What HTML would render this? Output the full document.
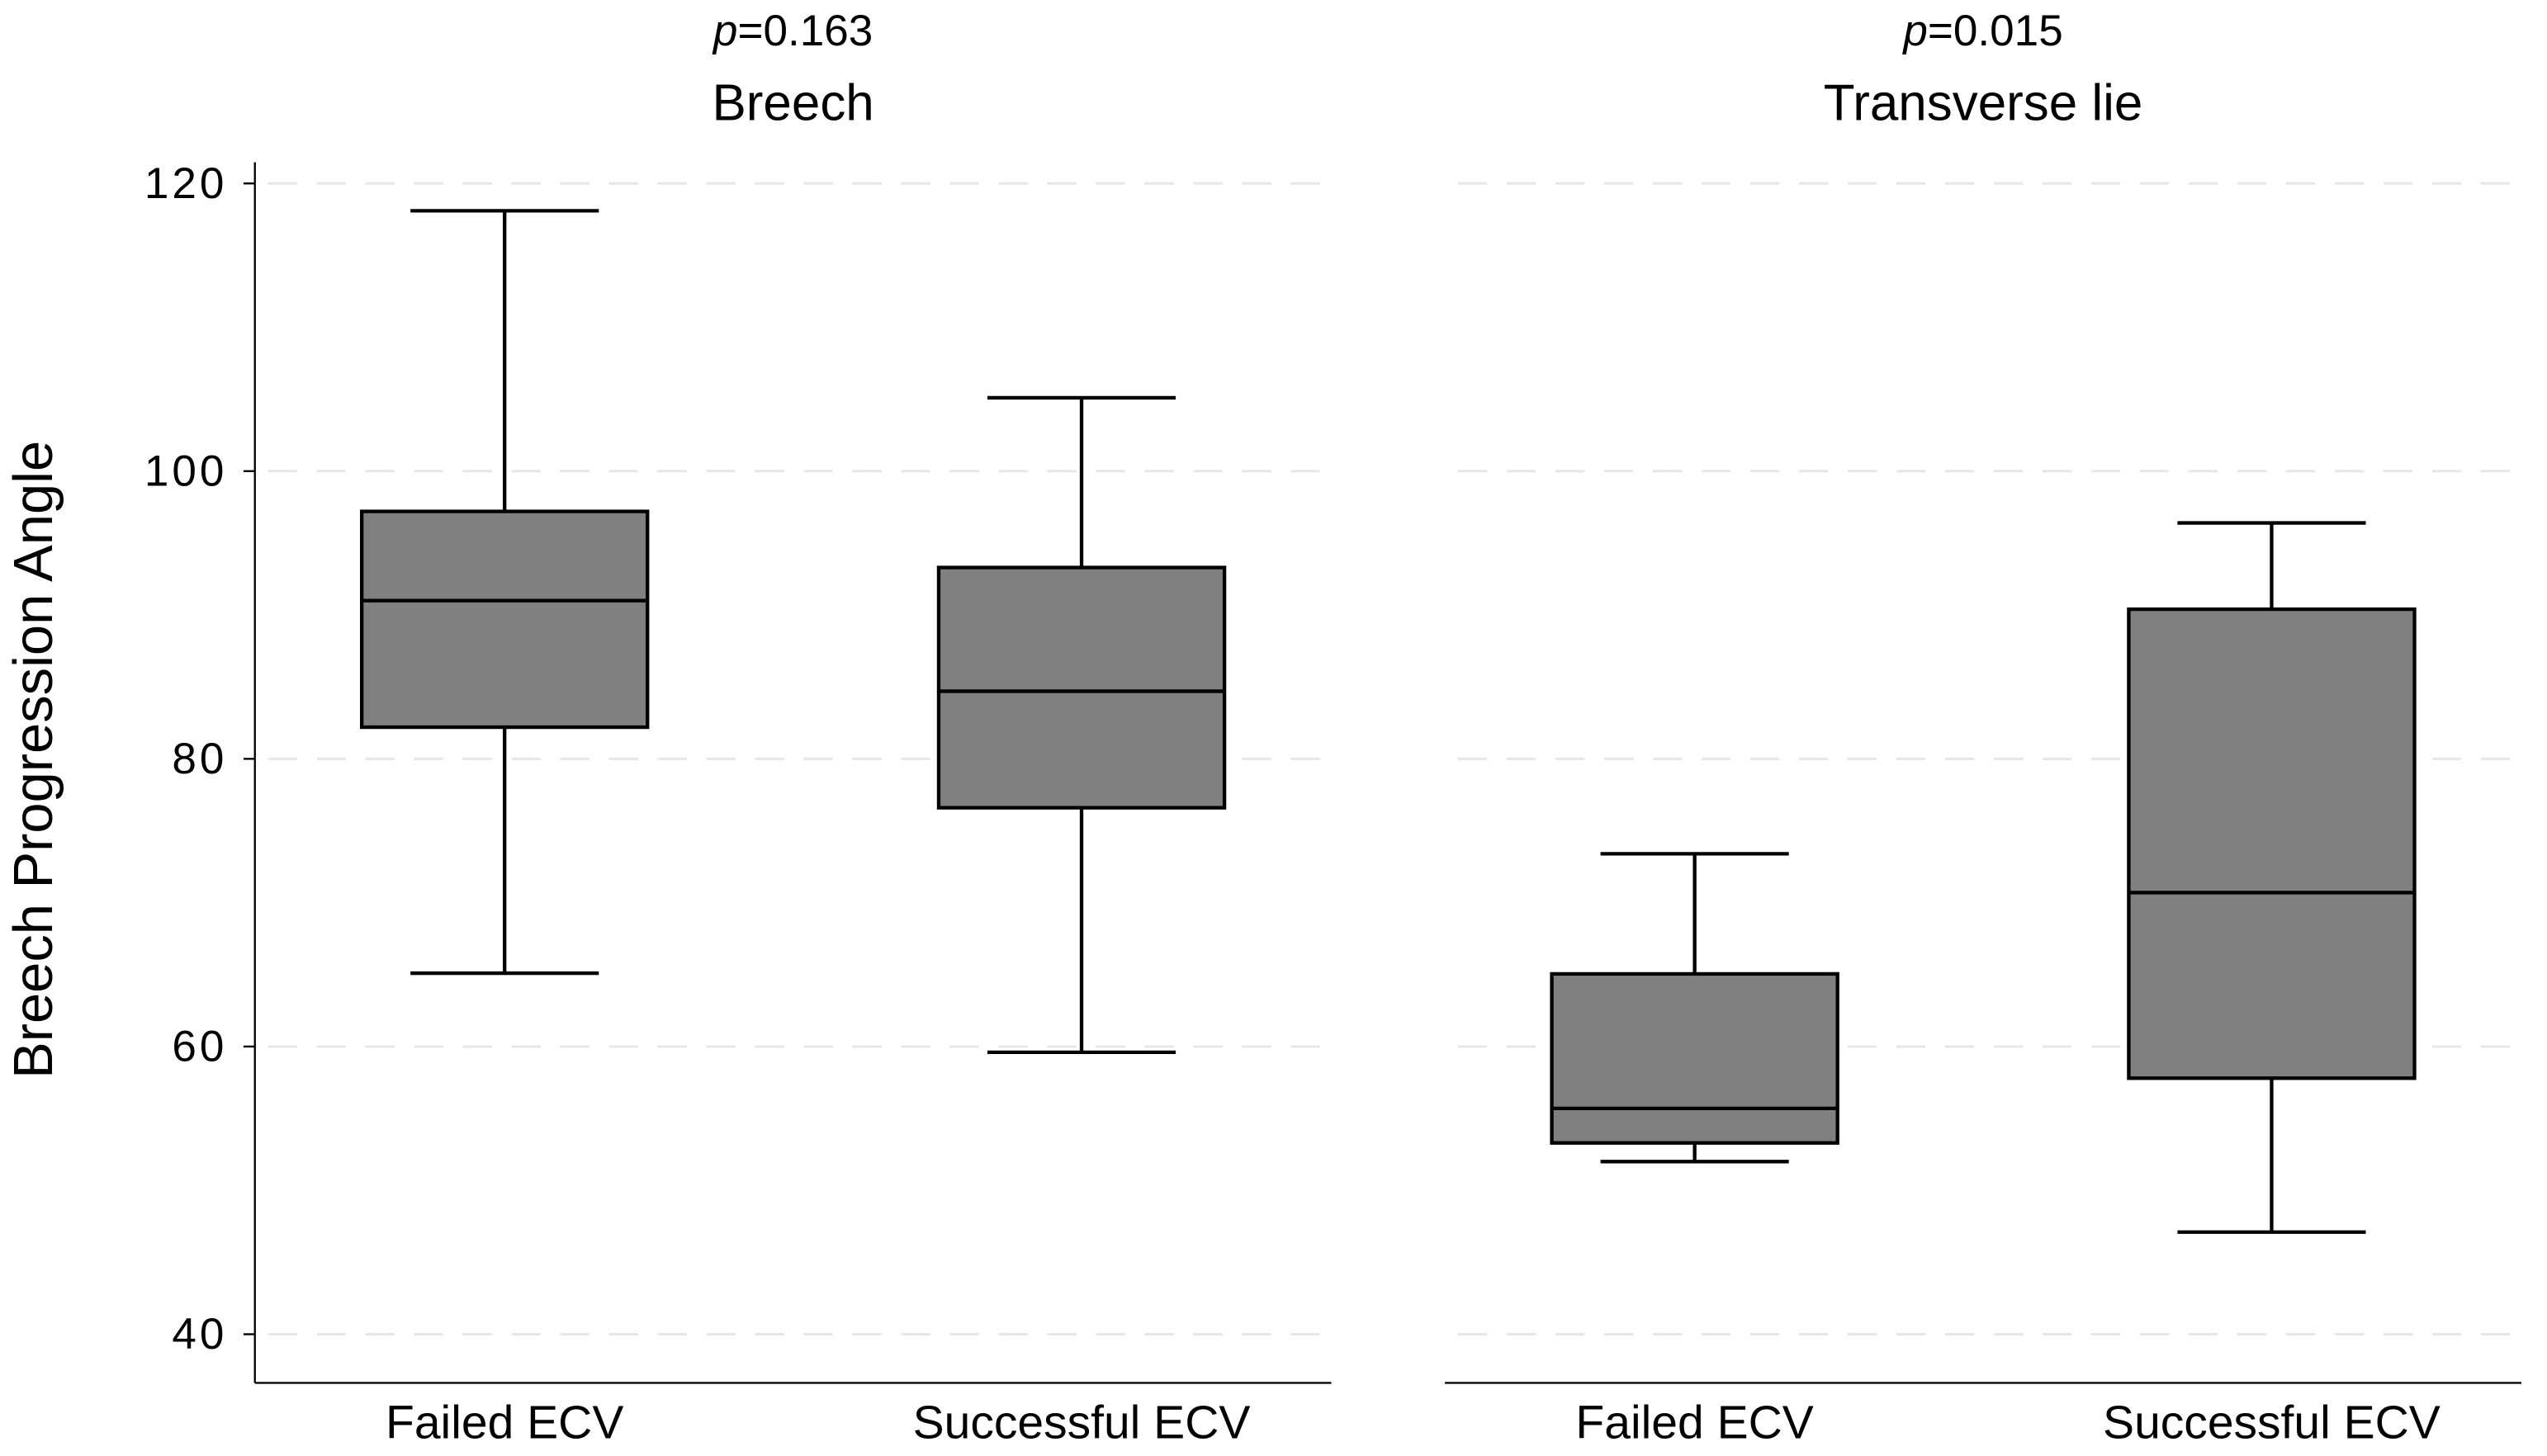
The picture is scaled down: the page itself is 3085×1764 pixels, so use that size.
<!DOCTYPE html>
<html><head><meta charset="utf-8"><style>
html,body{margin:0;padding:0;background:#fff;}
svg{display:block;font-family:"Liberation Sans",Arial,sans-serif;}
</style></head><body>
<svg id="chart" width="3085" height="1764" viewBox="0 0 1568.8 897" xmlns="http://www.w3.org/2000/svg">
<g id="g"></g>
</svg>
<script>
const panels = ["Breech", "Transverse lie"];
const pvalues = ["0.163", "0.015"];
const categories = ["Failed ECV", "Successful ECV"];
const yTicks = [40, 60, 80, 100, 120];
// [low whisker, Q1, median, Q3, high whisker] per panel per category
const breechFailed = [65.1, 82.2, 91.0, 97.2, 118.1];
const breechSuccess = [59.6, 76.6, 84.7, 93.3, 105.1];
const transFailed = [52.0, 53.3, 55.7, 65.05, 73.4];
const transSuccess = [47.1, 57.8, 70.7, 90.4, 96.4];
const series = [[breechFailed, breechSuccess], [transFailed, transSuccess]];

const NS = "http://www.w3.org/2000/svg";
const g = document.getElementById("g");
function y(v){ return 822 - (v - 40) * (709 / 80); }
const panelX = [[157, 820], [890, 1553]];
function xCat(p, i){ const [a,b] = panelX[p]; const w = b - a; return a + w * (0.232 + 0.536 * i); }
function el(tag, attrs, parent){ const e = document.createElementNS(NS, tag); for (const k in attrs) e.setAttribute(k, attrs[k]); (parent||g).appendChild(e); return e; }

// y axis
const ya = el("line", {x1:157, y1:100, x2:157, y2:852, stroke:"#000", "stroke-width":1.2});


const yt = el("text", {x:0, y:0, "font-size":34, "text-anchor":"middle", transform:"translate(32 468) rotate(-90)"});
yt.textContent = "Breech Progression Angle";


yTicks.forEach(t => {
  const tk = el("line", {x1:150, x2:157, y1:y(t), y2:y(t), stroke:"#000", "stroke-width":1.2});
  
  
  const tl = el("text", {x:140, y:y(t)+9, "font-size":27, "letter-spacing":2, "text-anchor":"end"});
  tl.textContent = t;
  
  
});

panels.forEach((name, p) => {
  const [a,b] = panelX[p];
  const cx = (a + b) / 2;
  yTicks.forEach(t => {
    const gl = el("line", {x1:a+8, x2:b, y1:y(t), y2:y(t), stroke:"#e6e6e6", "stroke-width":1.5, "stroke-dasharray":"18 12"});
    
    
  });
  const xa = el("line", {x1:a, x2:b, y1:852, y2:852, stroke:"#000", "stroke-width":1.2});
  
  
  const pv = el("text", {x:cx, y:28, "font-size":27, "text-anchor":"middle"});
  pv.innerHTML = '<tspan font-style="italic">p</tspan>=' + pvalues[p];
  
  
  const ti = el("text", {x:cx, y:74, "font-size":31.5, "text-anchor":"middle"});
  ti.textContent = name;
  
  
  categories.forEach((c, i) => {
    const x = xCat(p, i);
    const d = series[p][i];
    const bw = 88, cw = 58;
    const grp = el("g", {});
    
    
    el("line", {x1:x, x2:x, y1:y(d[4]), y2:y(d[3]), stroke:"#000", "stroke-width":2.2}, grp);
    el("line", {x1:x, x2:x, y1:y(d[1]), y2:y(d[0]), stroke:"#000", "stroke-width":2.2}, grp);
    el("line", {x1:x-cw, x2:x+cw, y1:y(d[4]), y2:y(d[4]), stroke:"#000", "stroke-width":2.2}, grp);
    el("line", {x1:x-cw, x2:x+cw, y1:y(d[0]), y2:y(d[0]), stroke:"#000", "stroke-width":2.2}, grp);
    el("rect", {x:x-bw, y:y(d[3]), width:2*bw, height:y(d[1])-y(d[3]), fill:"#808080", stroke:"#000", "stroke-width":2.2}, grp);
    el("line", {x1:x-bw, x2:x+bw, y1:y(d[2]), y2:y(d[2]), stroke:"#000", "stroke-width":2.2}, grp);
    const xl = el("text", {x:x, y:886, "font-size":29, "text-anchor":"middle"});
    xl.textContent = c;
    
    
  });
});
</script>
</body></html>
